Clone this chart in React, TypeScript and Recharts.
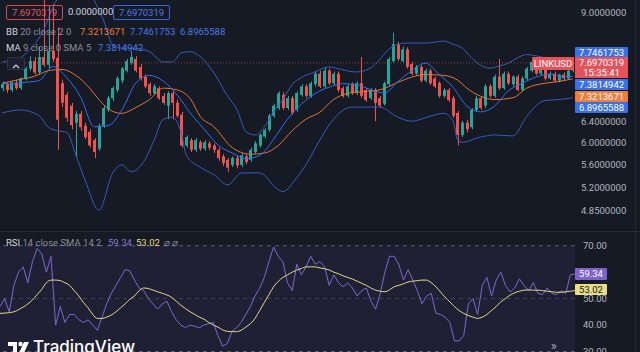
import React from "react";
import {
  ComposedChart,
  Bar,
  Line,
  XAxis,
  YAxis,
  ReferenceLine,
  ReferenceArea,
} from "recharts";

const FONT = "Roboto, 'Noto Sans', sans-serif";
const BG = "#161a25";
const TEXT = "#b2b5be";
const UP = "#26a69a";
const DOWN = "#ef5350";
const BAND = "#3a5cb8";
const MA_BLUE = "#3070ee";
const BASIS = "#e0773a";
const RSI_COLOR = "#7d68cf";
const RSI_MA_COLOR = "#e4da8e";

// LINKUSD candles, oldest first
const opens = [
  7.11, 7.2, 7.07, 7.24, 7.11, 7.33, 7.56, 7.74, 7.47, 7.84,
  7.65, 7.99, 7.82, 7.22, 6.96, 6.73, 6.38, 6.56, 6.32, 6.2,
  6.04, 5.88, 6.32, 6.64, 6.89, 7.07, 7.28, 7.51, 7.7, 7.79,
  7.6, 7.37, 7.2, 7.0, 7.11, 6.94, 6.73, 7.0, 6.79, 6.54,
  5.94, 6.04, 5.86, 6.0, 5.88, 5.98, 5.94, 5.86, 5.74, 5.68,
  5.59, 5.71, 5.59, 5.74, 5.68, 5.82, 5.94, 6.11, 6.24, 6.52,
  6.68, 6.96, 6.68, 6.89, 6.64, 6.96, 7.15, 6.94, 7.2, 7.44,
  7.15, 7.51, 7.22, 7.44, 7.11, 6.94, 7.2, 7.0, 7.22, 7.07,
  6.89, 7.07, 6.89, 6.77, 7.2, 7.74, 8.16, 7.74, 8.03, 7.67,
  7.44, 7.6, 7.28, 7.51, 7.33, 7.22, 6.94, 7.07, 6.89, 6.58,
  6.14, 6.38, 6.29, 6.64, 6.89, 6.73, 7.15, 6.94, 7.37, 7.11,
  7.44, 7.2, 7.37, 7.07, 7.33, 7.51, 7.72, 7.44, 7.6, 7.33,
  7.44, 7.28, 7.42, 7.33, 7.51,
];
const highs = [
  7.26, 7.24, 7.26, 7.3, 7.35, 7.6, 7.86, 7.84, 8.1, 9.4,
  9.2, 9.25, 8.6, 7.3, 7.02, 6.79, 6.62, 6.62, 6.38, 6.25,
  6.08, 6.36, 6.72, 6.94, 7.15, 7.38, 7.6, 7.79, 7.99, 7.86,
  7.67, 7.42, 7.24, 7.2, 7.15, 7.0, 7.04, 7.07, 6.85, 6.6,
  6.13, 6.08, 6.08, 6.04, 6.04, 6.02, 5.98, 5.9, 5.78, 5.71,
  5.74, 5.76, 5.8, 5.78, 5.9, 6.02, 6.17, 6.27, 6.56, 6.77,
  7.04, 7.02, 6.94, 6.94, 7.04, 7.2, 7.2, 7.26, 7.49, 7.51,
  7.58, 7.56, 7.49, 7.49, 7.15, 7.2, 7.24, 7.26, 7.84, 7.11,
  7.11, 7.11, 6.94, 7.26, 7.84, 8.46, 8.22, 8.1, 8.08, 7.72,
  7.65, 7.65, 7.56, 7.56, 7.37, 7.26, 7.11, 7.11, 6.94, 6.62,
  6.42, 6.44, 6.68, 6.94, 6.94, 7.2, 7.2, 7.42, 7.79, 7.49,
  7.49, 7.4, 7.42, 7.38, 7.6, 7.76, 7.76, 7.65, 7.65, 7.49,
  7.49, 7.44, 7.47, 7.56, 7.76,
];
const lows = [
  7.04, 7.0, 7.02, 7.07, 7.07, 7.28, 7.51, 7.42, 7.42, 7.6,
  7.56, 7.72, 5.86, 6.7, 6.4, 6.25, 5.73, 6.22, 6.06, 5.9,
  5.71, 5.84, 6.28, 6.6, 6.83, 7.02, 7.22, 7.47, 7.65, 7.47,
  7.28, 7.11, 6.94, 6.96, 6.85, 6.75, 6.45, 6.45, 6.48, 5.9,
  5.9, 5.82, 5.82, 5.84, 5.84, 5.86, 5.8, 5.66, 5.57, 5.47,
  5.55, 5.53, 5.55, 5.6, 5.64, 5.78, 5.9, 6.07, 6.2, 6.48,
  6.64, 6.64, 6.64, 6.54, 6.6, 6.92, 6.9, 6.9, 7.15, 7.11,
  7.11, 7.18, 7.18, 7.02, 6.9, 6.9, 6.96, 6.96, 6.9, 6.81,
  6.85, 6.41, 6.68, 6.73, 7.15, 7.7, 7.74, 7.7, 7.56, 7.4,
  7.4, 7.24, 7.24, 7.18, 7.11, 6.9, 6.9, 6.81, 6.48, 5.94,
  6.1, 6.19, 6.25, 6.6, 6.64, 6.68, 6.9, 6.9, 7.07, 7.07,
  7.18, 7.15, 7.04, 7.02, 7.28, 7.47, 7.4, 7.4, 7.28, 7.3,
  7.24, 7.24, 7.28, 7.3, 7.47,
];
const closes = [
  7.2, 7.07, 7.24, 7.11, 7.33, 7.56, 7.74, 7.47, 7.84, 7.65,
  7.99, 7.79, 6.44, 6.79, 6.48, 6.33, 6.56, 6.29, 6.1, 5.94,
  5.82, 6.32, 6.68, 6.89, 7.11, 7.33, 7.56, 7.74, 7.84, 7.51,
  7.33, 7.15, 7.0, 7.15, 6.89, 6.79, 7.0, 6.79, 6.52, 5.94,
  6.1, 5.86, 6.04, 5.88, 6.0, 5.9, 5.86, 5.71, 5.62, 5.54,
  5.71, 5.58, 5.76, 5.64, 5.86, 5.98, 6.14, 6.24, 6.52, 6.73,
  7.0, 6.68, 6.89, 6.58, 7.0, 7.15, 6.94, 7.22, 7.44, 7.15,
  7.51, 7.22, 7.44, 7.07, 6.94, 7.15, 7.0, 7.22, 6.94, 6.85,
  7.07, 6.79, 6.73, 7.22, 7.79, 8.16, 7.79, 8.03, 7.6, 7.44,
  7.6, 7.28, 7.51, 7.22, 7.15, 6.94, 7.07, 6.85, 6.52, 6.14,
  6.38, 6.25, 6.64, 6.89, 6.68, 7.15, 6.94, 7.37, 7.11, 7.44,
  7.22, 7.37, 7.07, 7.33, 7.56, 7.72, 7.44, 7.6, 7.33, 7.44,
  7.28, 7.42, 7.33, 7.51, 7.7,
];

// indicator lines read at [candle index, value]
const upperBand: [number, number][] = [
  [0, 7.72], [3, 7.77], [6, 8.03], [9, 8.53], [11, 9.17], [13, 9.6], [16, 9.9],
  [19, 9.7], [20, 9.37], [22, 8.8], [24, 8.14], [26, 8.06], [29, 8.06], [32, 7.97],
  [35, 7.72], [37, 7.72], [39, 7.95], [41, 7.97], [43, 7.85], [46, 7.46], [49, 6.93],
  [51, 6.65], [53, 6.2], [55, 6.14], [57, 6.3], [59, 6.61], [61, 6.86], [63, 7.19],
  [65, 7.35], [68, 7.48], [71, 7.6], [74, 7.53], [77, 7.48], [80, 7.57], [82, 7.77],
  [84, 8.03], [86, 8.16], [88, 8.19], [92, 8.19], [96, 8.24], [98, 8.16], [100, 8.06],
  [102, 7.82], [104, 7.64], [106, 7.57], [108, 7.62], [110, 7.69], [112, 7.82],
  [114, 7.9], [116, 7.87], [118, 7.82], [120, 7.77], [122, 7.73], [124, 7.746],
];
const basisLine: [number, number][] = [
  [0, 7.22], [3, 7.29], [7, 7.38], [10, 7.51], [13, 7.54], [16, 7.4], [19, 7.11],
  [21, 6.86], [24, 6.61], [26, 6.57], [29, 6.69], [32, 6.86], [35, 7.11], [38, 7.07],
  [41, 6.86], [43, 6.51], [46, 6.3], [50, 5.9], [54, 5.78], [57, 5.8], [60, 5.94],
  [63, 6.22], [66, 6.45], [69, 6.59], [72, 6.86], [75, 6.99], [78, 7.03], [82, 7.07],
  [86, 7.24], [89, 7.36], [92, 7.42], [96, 7.4], [99, 7.29], [101, 7.11], [104, 6.93],
  [107, 6.86], [111, 6.9], [114, 7.11], [118, 7.22], [121, 7.26], [124, 7.321],
];
const lowerBand: [number, number][] = [
  [0, 6.58], [4, 6.64], [8, 6.52], [10, 6.29], [12, 6.22], [14, 6.19], [16, 5.76],
  [18, 5.33], [21, 4.85], [24, 5.45], [26, 5.59], [28, 5.47], [31, 5.68], [33, 6.04],
  [35, 6.45], [37, 6.49], [39, 6.14], [40, 5.76], [43, 5.55], [46, 5.42], [49, 5.25],
  [52, 5.45], [56, 5.45], [60, 5.17], [61, 5.14], [64, 5.37], [66, 5.59], [69, 6.04],
  [72, 6.45], [76, 6.7], [82, 6.7], [86, 6.49], [89, 6.41], [93, 6.51], [96, 6.57],
  [98, 6.41], [99, 6.04], [100, 6.0], [104, 6.1], [107, 6.14], [111, 6.12],
  [114, 6.51], [118, 6.84], [121, 6.86], [124, 6.897],
];
const ma9: [number, number][] = [
  [0, 7.22], [2, 7.2], [5, 7.24], [8, 7.28], [11, 7.61], [14, 7.35], [17, 6.92],
  [20, 6.3], [23, 6.32], [26, 6.64], [29, 7.22], [32, 7.4], [35, 7.27], [38, 6.96],
  [41, 6.56], [44, 6.24], [47, 5.94], [50, 5.8], [53, 5.7], [56, 5.76], [59, 6.06],
  [62, 6.45], [65, 6.76], [68, 6.99], [71, 7.13], [74, 7.21], [77, 7.19], [80, 7.08],
  [83, 7.0], [86, 7.26], [89, 7.51], [92, 7.69], [95, 7.42], [98, 7.13], [101, 6.72],
  [104, 6.6], [107, 6.72], [110, 7.05], [113, 7.22], [116, 7.36], [119, 7.43],
  [122, 7.37], [124, 7.381],
];

const rsiValues = [
  47, 50, 45, 55, 60, 62, 56, 64, 69, 67, 60, 66, 40, 47, 41, 44, 44, 42, 41, 42,
  40, 38, 43, 48, 52, 55, 58, 61, 60.5, 57, 54, 53, 50, 48, 46, 48, 49, 45, 42, 40,
  39, 40, 39.5, 39, 40, 40.5, 41, 36, 32, 33, 37.5, 39, 41, 44, 47, 51, 54, 58, 64, 69.5,
  66, 64, 56, 53, 63, 59, 62, 66, 63, 64, 62, 55, 59, 56, 54.5, 56, 54, 51, 53, 54,
  49, 46, 52, 60, 66, 66, 63, 57, 61, 57, 53, 48, 51, 52, 44.5, 44, 43, 41, 34, 34,
  36, 48, 50, 44, 55, 58, 51, 57, 60, 55, 52.5, 54, 57.5, 55, 53, 56, 52, 51.5, 54, 52,
  51.5, 53, 52, 59, 59.34,
];
const rsiSma = [
  44.4, 44.5, 44.7, 45, 45.8, 46.8, 48, 49.5, 51.5, 53.5, 56, 57, 57, 56.8, 56, 55, 53, 51, 48.5, 46.5,
  44, 42.5, 42.5, 43, 43.8, 45, 46.5, 48, 49.8, 51, 53, 54, 53.8, 53.2, 52.6, 52, 51.4, 50.5, 49, 47.5,
  46.2, 45, 44, 43, 42.2, 41, 40, 39.2, 38.2, 37.6, 37.5, 37.5, 38, 39.2, 40.5, 42.5, 45.5, 48.5, 51.5, 54.5,
  56.5, 58, 59, 60, 60.8, 61.4, 62, 62, 62, 61.6, 61.3, 60.8, 60, 59.4, 58.6, 58, 57.4, 56.6, 55.8, 55,
  54, 53.2, 52.8, 52.6, 53.3, 54.5, 55, 55.6, 56.3, 56.6, 56.8, 57, 57, 56, 54.5, 52.5, 50.5, 48.8, 47, 45.5,
  44.4, 43.6, 43, 42.5, 43, 44, 45.5, 47, 48.8, 50, 51.3, 52.2, 52.8, 53.2, 53.3, 53.2, 53.2, 53, 52.8, 52.6,
  52.4, 52.4, 52.6, 52.8, 53.02,
];

const priceTicks = [9, 6.4, 6, 5.6, 5.2, 4.85];
const rsiTicks = [70, 50, 40, 30];

const lookup = (pairs: [number, number][]) => {
  const m = new Map(pairs);
  return (i: number) => (m.has(i) ? (m.get(i) as number) : null);
};
const upAt = lookup(upperBand);
const midAt = lookup(basisLine);
const lowAt = lookup(lowerBand);
const maAt = lookup(ma9);

const candles = closes.map((c, i) => ({
  i,
  open: opens[i],
  close: c,
  range: [lows[i], highs[i]],
  body: [Math.min(opens[i], c), Math.max(opens[i], c)],
  upper: upAt(i),
  basis: midAt(i),
  lower: lowAt(i),
  ma: maAt(i),
}));

const rsiRows = rsiValues.map((v, i) => ({ i, rsi: v, sma: rsiSma[i] }));

const Wick = (props: any) => {
  const { x, y, width, height, payload } = props;
  if (x == null || y == null) return null;
  const cx = Math.round(x + width / 2) + 0.5;
  const col = payload.close >= payload.open ? UP : DOWN;
  return <line x1={cx} x2={cx} y1={y} y2={y + height} stroke={col} strokeWidth={1} />;
};

const Body = (props: any) => {
  const { x, y, width, height, payload } = props;
  if (x == null || y == null) return null;
  const col = payload.close >= payload.open ? UP : DOWN;
  return <rect x={Math.round(x)} y={y} width={width} height={Math.max(height, 1)} fill={col} />;
};

const Txt = ({ left, top, color, size = 9.5, children, style }: any) => (
  <div
    style={{
      position: "absolute",
      left,
      top,
      color,
      fontSize: size,
      fontFamily: FONT,
      lineHeight: "12px",
      whiteSpace: "nowrap",
      ...style,
    }}
  >
    {children}
  </div>
);

const AxisBox = ({ top, height = 11, bg, color = "#fff", children, left = 575, width = 53 }: any) => (
  <div
    style={{
      position: "absolute",
      left,
      top,
      width,
      height,
      background: bg,
      color,
      fontFamily: FONT,
      fontSize: 9.5,
      lineHeight: `${height}px`,
      textAlign: "center",
      borderRadius: 1,
    }}
  >
    {children}
  </div>
);

export default function App() {
  return (
    <div
      style={{
        position: "absolute",
        left: 0,
        top: 0,
        width: 640,
        height: 352,
        background: BG,
        overflow: "hidden",
      }}
    >
      <div style={{ position: "absolute", left: 0, top: 0 }}>
        <ComposedChart width={640} height={230} data={candles} margin={{ top: 0, right: 0, bottom: 0, left: 0 }}>
          <XAxis xAxisId="a" dataKey="i" hide />
          <XAxis xAxisId="b" dataKey="i" hide />
          <YAxis
            orientation="right"
            scale="log"
            domain={[4.557, 9.374]}
            allowDataOverflow
            ticks={priceTicks}
            interval={0}
            width={65}
            axisLine={false}
            tickLine={false}
            tickSize={0}
            tickMargin={6}
            tick={{ fill: TEXT, fontSize: 9.5, fontFamily: FONT }}
            tickFormatter={(v: number) => v.toFixed(7)}
          />
          <ReferenceLine xAxisId="a" y={7.697} stroke="#e5525a" strokeOpacity={0.6} strokeDasharray="1 2" />
          <Line xAxisId="a" dataKey="upper" type="monotone" stroke={BAND} strokeWidth={1} dot={false} activeDot={false} connectNulls isAnimationActive={false} />
          <Line xAxisId="a" dataKey="lower" type="monotone" stroke={BAND} strokeWidth={1} dot={false} activeDot={false} connectNulls isAnimationActive={false} />
          <Line xAxisId="a" dataKey="basis" type="monotone" stroke={BASIS} strokeWidth={1} dot={false} activeDot={false} connectNulls isAnimationActive={false} />
          <Line xAxisId="a" dataKey="ma" type="monotone" stroke={MA_BLUE} strokeWidth={1} dot={false} activeDot={false} connectNulls isAnimationActive={false} />
          <Bar xAxisId="a" dataKey="range" barSize={3} shape={<Wick />} activeBar={false} isAnimationActive={false} />
          <Bar xAxisId="b" dataKey="body" barSize={3} shape={<Body />} activeBar={false} isAnimationActive={false} />
        </ComposedChart>
      </div>

      {/* pane separator */}
      <div style={{ position: "absolute", left: 0, top: 230, width: 640, height: 2, background: "#10131b" }} />
      <div style={{ position: "absolute", left: 0, top: 231, width: 640, height: 1, background: "#2a2e39" }} />
      <div style={{ position: "absolute", left: 635, top: 0, width: 1, height: 352, background: "#252936" }} />

      <div style={{ position: "absolute", left: 0, top: 232 }}>
        <ComposedChart width={640} height={120} data={rsiRows} margin={{ top: 0, right: 0, bottom: 0, left: 0 }}>
          <XAxis dataKey="i" hide />
          <YAxis
            orientation="right"
            domain={[29.8, 75.2]}
            allowDataOverflow
            ticks={rsiTicks}
            interval={0}
            width={65}
            axisLine={false}
            tickLine={false}
            tickSize={0}
            tickMargin={8}
            tick={{ fill: TEXT, fontSize: 9.5, fontFamily: FONT }}
            tickFormatter={(v: number) => v.toFixed(2)}
          />
          <ReferenceArea y1={30} y2={70} fill="#7e57c2" fillOpacity={0.1} stroke="none" />
          <ReferenceLine y={70} stroke="#787b86" strokeOpacity={0.7} strokeDasharray="4 4" />
          <ReferenceLine y={50} stroke="#787b86" strokeOpacity={0.4} strokeDasharray="4 4" />
          <ReferenceLine y={30} stroke="#787b86" strokeOpacity={0.7} strokeDasharray="4 4" />
          <Line dataKey="rsi" type="linear" stroke={RSI_COLOR} strokeWidth={1} dot={false} activeDot={false} isAnimationActive={false} />
          <Line dataKey="sma" type="monotone" stroke={RSI_MA_COLOR} strokeWidth={1} dot={false} activeDot={false} isAnimationActive={false} />
        </ComposedChart>
      </div>

      {/* top-left legend */}
      <div
        style={{
          position: "absolute", left: 6, top: 5, width: 55, height: 13,
          border: "1px solid #d4474f", borderRadius: 2, color: "#e5525a",
          fontFamily: FONT, fontSize: 9.5, lineHeight: "13px", textAlign: "center",
        }}
      >
        7.6970319
      </div>
      <Txt left={68} top={6} color="#d1d4dc">0.0000000</Txt>
      <div
        style={{
          position: "absolute", left: 113, top: 5, width: 55, height: 13,
          border: "1px solid #3a66d8", borderRadius: 2, color: "#4a78ea",
          fontFamily: FONT, fontSize: 9.5, lineHeight: "13px", textAlign: "center",
        }}
      >
        7.6970319
      </div>
      <Txt left={6} top={26} color="#d1d4dc">
        BB <span style={{ color: "#8a8e99" }}>20 close 2 0</span>
      </Txt>
      <Txt left={80} top={26} color="#e8813f">7.3213671</Txt>
      <Txt left={130} top={26} color="#4a78ea">7.7461753</Txt>
      <Txt left={180} top={26} color="#4a78ea">6.8965588</Txt>
      <Txt left={6} top={42} color="#d1d4dc">
        MA <span style={{ color: "#8a8e99" }}>9 close 0 SMA 5</span>
      </Txt>
      <Txt left={98} top={42} color="#4a78ea">7.3814942</Txt>
      <div
        style={{
          position: "absolute", left: 7, top: 57, width: 16, height: 11,
          background: "#1c2030", border: "1px solid #2f3442", borderRadius: 2,
        }}
      >
        <svg width={16} height={11}>
          <polyline points="5,7 8,4 11,7" fill="none" stroke="#d1d4dc" strokeWidth={1.2} />
        </svg>
      </div>

      {/* price axis labels */}
      <AxisBox top={47} bg="#3a6fe6">7.7461753</AxisBox>
      <AxisBox left={532} width={42} top={57} height={13} bg="#e5525a">LINKUSD</AxisBox>
      <div
        style={{
          position: "absolute", left: 575, top: 57, width: 53, height: 21,
          background: "#e5525a", color: "#fff", fontFamily: FONT, fontSize: 9.5,
          lineHeight: "10px", textAlign: "center", paddingTop: 1, boxSizing: "border-box",
        }}
      >
        7.6970319
        <br />
        15:35:41
      </div>
      <AxisBox top={79} bg="#3a6fe6">7.3814942</AxisBox>
      <AxisBox top={91} bg="#ee7e3d">7.3213671</AxisBox>
      <AxisBox top={102} bg="#3a6fe6">6.8965588</AxisBox>

      {/* RSI legend and labels */}
      <Txt left={6} top={237} color="#d1d4dc">
        RSI <span style={{ color: "#8a8e99" }}>14 close SMA 14 2</span>
      </Txt>
      <Txt left={108} top={237} color="#8a78d6">59.34</Txt>
      <Txt left={136} top={237} color="#e6d88a">53.02</Txt>
      <Txt left={164} top={237} color="#8a8e99">⌀ ⌀</Txt>
      <AxisBox top={268} width={32} height={12} bg="#7e63cc">59.34</AxisBox>
      <AxisBox top={284} width={32} height={11} bg="#eadd85" color="#131722">53.02</AxisBox>
      <Txt left={551} top={340} color={TEXT} size={12}>»</Txt>

      {/* watermark */}
      <svg style={{ position: "absolute", left: 8, top: 341 }} width={22} height={12}>
        <rect x={0} y={1} width={9} height={4} fill="#fff" />
        <rect x={5} y={1} width={4} height={11} fill="#fff" />
        <circle cx={12.5} cy={3} r={2.2} fill="#fff" />
        <polygon points="16,1 21,1 16,12 11,12" fill="#fff" />
      </svg>
      <Txt left={33} top={337} color="#ffffff" size={17} style={{ fontWeight: 500, lineHeight: "20px", fontFamily: "Inter, Roboto, sans-serif" }}>
        TradingView
      </Txt>
    </div>
  );
}
